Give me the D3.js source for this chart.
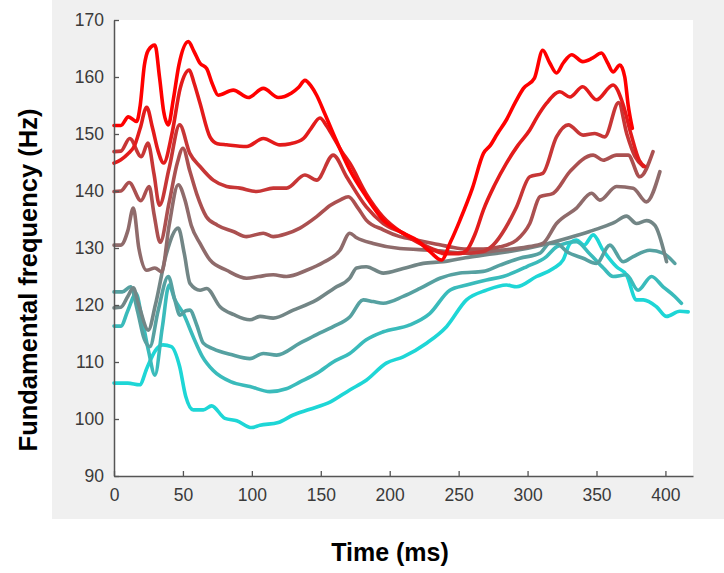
<!DOCTYPE html>
<html>
<head>
<meta charset="utf-8">
<script src="https://cdn.jsdelivr.net/npm/d3@7"></script>
<style>
  body { margin: 0; background: #fff; }
  text { font-family: "Liberation Sans", Arial, sans-serif; }
</style>
</head>
<body>
<div id="chart"></div>
<script>
// pitch contours, [time (ms), F0 (Hz)], highest to lowest
var contour1 = [[0,151.5],[5,151.5],[10.4,153],[16.4,152.2],[19,155],[22,162],[24.9,164.7],[29.7,165.6],[33,160],[36,154],[39.4,151.6],[43,156],[47,162],[53.9,166.2],[58,164.5],[62.4,162.4],[67.2,161.5],[71,159],[75.6,156.8],[86.5,157.7],[97.4,156.4],[108.3,158],[119.2,156.4],[128.8,157.2],[134,158.2],[138.5,159.4],[143,158.4],[147,156.8],[153,153.5],[159,150.1],[171,143.7],[183,139],[195.3,134.9],[209.8,132.6],[219.5,131.4],[229,129.4],[237.6,127.9],[244,131],[251,134.9],[260,140.5],[268,146.6],[273,148],[278,150],[284.7,152.5],[291,155.5],[297,158],[305,159.8],[311,164.7],[316,162.5],[321,160.7],[326,162.5],[332,163.9],[340,162.7],[347,163.3],[353.6,164.2],[358,162.5],[362,160.9],[367,162.1],[370.5,160],[373,155],[376,151]];
var contour2 = [[0,144.9],[5,145.5],[10,146.5],[15,148],[19,151],[23.7,154.7],[28,151],[32,147],[36,144.9],[42,150],[48,158],[54.6,161.2],[58,159],[62.4,155.4],[69.6,149.5],[75,148.3],[81.7,148.1],[96.2,147.8],[108.3,149.2],[120.4,148.1],[128,148.3],[137.3,149.2],[143,151],[149.4,152.8],[154,151.5],[159,149.5],[165,147],[171,144.9],[183,139.5],[195,135.5],[210,132.5],[220,131],[230,129.8],[240,129],[250,129],[255.8,129.6],[262,132.5],[268,136.7],[276,141],[284.7,144.9],[293,148],[301.6,150.7],[307,153],[313.8,155.4],[323.4,157.4],[330.7,156.5],[340,158.3],[350,156],[362,158.6],[369,155.4],[375,150],[381,145.4],[385,144.3]];
var contour3 = [[0,146.9],[5,147],[11.4,149.2],[19.8,146],[24.6,148.4],[29,143],[33,137.5],[40,144],[47.6,151.6],[55,146.6],[62.4,144.3],[72,141.9],[81.7,140.8],[91.4,140.5],[103.5,139.9],[115.5,140.5],[125.2,140.5],[138.5,142.8],[147,141.9],[159,146.3],[168.7,142.5],[183,137.2],[195.3,134.3],[209.8,132.6],[220,131.2],[231.5,129.8],[243.6,129.1],[255.7,129.1],[267.8,129.4],[275,130.5],[284,133.5],[292,137.2],[301.6,142.5],[311,143.1],[321,149.5],[329.5,151.6],[340.3,149.8],[348.8,150.1],[356,149.5],[366,155.5],[372,150],[378,146],[384,144.3]];
var contour4 = [[0,139.9],[5,140],[11,141.5],[19.5,138.3],[25.5,140.8],[29,136],[33.5,131],[40,138],[46,145],[50,147.5],[55,143.5],[60,139.5],[67,135.5],[75,134],[86.5,132.9],[96.2,132],[108.3,132.6],[115.5,132],[125,132.5],[134.9,133.5],[147,135.5],[157,137.5],[163.9,138.4],[170,139],[177,137],[183,134.9],[195.3,133.2],[207.4,132],[219.5,131.4],[231.5,130.8],[243.6,130.2],[255.7,129.8],[267.8,129.8],[280,130.2],[292,131.4],[301.6,134.3],[309,139],[318.6,139.6],[330.7,143.4],[347.6,146.3],[354.8,145.4],[364.5,146.3],[373,146.3],[381.4,142.5],[391,146.9]];
var contour5 = [[0,130.5],[5,130.5],[10,133],[14,137],[18,130],[23.7,126.1],[29.7,126.5],[34.6,125.8],[40,134],[46.6,141.1],[51.5,138.4],[56,134],[62.4,130.8],[69.6,127.9],[81.7,126.1],[96.2,124.7],[105,125],[115.5,125.3],[125.2,125],[139.7,126.1],[152,127.5],[163.9,129.6],[171,132.6],[176,131.8],[188,130.8],[207.4,129.9],[231.5,129.6],[255.7,129.1],[280,129.6],[300,130.2],[311,130.8],[321,134.3],[335.5,137],[346.4,139.6],[352.4,138.4],[364.5,140.8],[376.6,140.5],[386.2,138.1],[396,143.4]];
var contour6 = [[0,119.5],[5,119.6],[10,121.5],[14,123],[18,120],[24.9,115.6],[30,120],[38,129],[46.6,133.5],[51,129],[55.1,123.8],[62.4,122.6],[67.2,122.9],[76.9,119.7],[87,118.3],[98.6,117.4],[105.9,118],[115.5,117.7],[130,119.1],[147,120.9],[160,123],[171,124.7],[176,126.5],[183,126.7],[195.3,125.6],[209.8,126.4],[224.3,127.3],[238.8,127.6],[255,128.3],[270,128.8],[290,129.5],[310,130.5],[330,131.8],[345,132.9],[354.8,133.7],[363,134.5],[371.7,135.6],[379,134.3],[386.3,134.8],[392.3,134],[400.8,127.6]];
var contour7 = [[0,122.3],[6,122.3],[12,123.2],[17,119],[22,114],[26,112.7],[32,119],[39.4,125],[44,121],[47.9,118.2],[52,119],[55,119.1],[60,116.5],[64.8,113.3],[72,112.3],[85,111.3],[98.6,110.6],[108.3,111.5],[118,111.2],[134.9,113.3],[147,114.8],[159,116.2],[171,117.9],[180.8,120.9],[188,120.6],[195.3,120.3],[209.8,121.5],[222,122.9],[236.4,124.7],[251,125.6],[267.8,125.9],[280,127],[294.4,128.2],[309,129.1],[316,130.8],[321,130.8],[328.3,129.4],[340.3,128.2],[350,127.3],[359.7,130.5],[369.3,127.6],[376.6,128.5],[388.7,129.6],[398.3,129.1],[406.8,127.3]];
var contour8 = [[0,116.3],[5,116.3],[10,119],[16,122],[20,118],[25,112],[29.7,107.7],[35,116],[40,123.5],[44,121],[50.3,118.5],[57.5,114.4],[64,111],[72,108.5],[85,106.5],[98.6,105.7],[113,104.8],[125,105.3],[135,106.5],[147,108],[159,110],[171,111.5],[183,113.9],[195.3,115.3],[214.6,116.5],[229,118.5],[243.6,122.6],[255.7,123.5],[270.2,124.4],[282.3,125],[299.2,126.7],[313.7,128.5],[321,130.2],[335.5,131.1],[345,129],[355,126.5],[362,125],[371.7,125.3],[380.2,122.6],[389.9,125],[398.3,123.2],[406.8,121.5],[411.6,120.3]];
var contour9 = [[0,106.3],[10,106.3],[18.6,106],[24,109],[30,112],[35.5,113],[41.6,112.7],[47.6,109.2],[52,104],[57.5,101.6],[64.8,101.6],[70.8,102.3],[80.5,100.1],[89,99.7],[99.8,98.5],[105.9,98.9],[119.2,99.4],[130,100.7],[142.1,101.7],[157,103],[171,105.1],[183,106.8],[197.5,109.8],[209.8,110.9],[226.7,113.3],[241.2,116.2],[255.7,120.9],[270.2,122.6],[284.7,123.5],[292,123.2],[306.5,125],[318.6,126.4],[325.8,127.9],[330.7,130.8],[335.5,131.4],[341,130.5],[347.6,132.3],[354.8,129.6],[364.5,126.7],[371.7,125.3],[379,120.9],[383.9,120.9],[393.5,119.7],[400.8,118],[410.4,118.9],[416.5,118.8]];

var contours = [contour1, contour2, contour3, contour4, contour5, contour6, contour7, contour8, contour9];
var xTicks = [0, 50, 100, 150, 200, 250, 300, 350, 400];
var yTicks = [90, 100, 110, 120, 130, 140, 150, 160, 170];

var svgWidth = 724;
var svgHeight = 573;
var margin = { top: 20, right: 31, bottom: 97, left: 114 };
var width = svgWidth - margin.left - margin.right;
var height = svgHeight - margin.top - margin.bottom;

var svg = d3.select("#chart").append("svg")
    .attr("width", svgWidth)
    .attr("height", svgHeight);

// grey figure panel and white axes area
svg.append("rect").attr("x", 52).attr("y", 0)
    .attr("width", svgWidth - 52).attr("height", 519)
    .attr("fill", "#f0f0f0");
svg.append("rect").attr("x", margin.left).attr("y", margin.top)
    .attr("width", width).attr("height", height)
    .attr("fill", "#ffffff");

var chartGroup = svg.append("g")
    .attr("transform", `translate(${margin.left}, ${margin.top})`);

var xScale = d3.scaleLinear().domain([0, 420]).range([0, width]);
var yScale = d3.scaleLinear().domain([90, 170]).range([height, 0]);

// colour runs from red (top contour) to cyan (bottom contour)
var colorScale = d3.scaleLinear()
    .domain([0, contours.length - 1])
    .range(["#ff0000", "#1ed6d6"])
    .interpolate(d3.interpolateRgb);

var line = d3.line()
    .x(d => xScale(d[0]))
    .y(d => yScale(d[1]))
    .curve(d3.curveMonotoneX);

// draw cyan first so the red contours sit on top
d3.range(contours.length).reverse().forEach(function(i) {
    chartGroup.append("path")
        .datum(contours[i])
        .attr("d", line)
        .attr("fill", "none")
        .attr("stroke", colorScale(i))
        .attr("stroke-width", 3.6)
        .attr("stroke-linejoin", "round")
        .attr("stroke-linecap", "round");
});

// axes, MATLAB style: ticks pointing inwards
var bottomAxis = d3.axisBottom(xScale).tickValues(xTicks).tickSizeInner(-5).tickSizeOuter(0).tickPadding(13);
var leftAxis = d3.axisLeft(yScale).tickValues(yTicks).tickSizeInner(-5).tickSizeOuter(0).tickPadding(10);

var xAxisG = chartGroup.append("g").attr("transform", `translate(0, ${height})`).call(bottomAxis);
var yAxisG = chartGroup.append("g").call(leftAxis);

[xAxisG, yAxisG].forEach(function(g) {
    g.select(".domain").attr("stroke", "#555555").attr("stroke-width", 1.5);
    g.selectAll(".tick line").attr("stroke", "#555555").attr("stroke-width", 1.3);
    g.selectAll(".tick text")
        .attr("fill", "#3a3a3a")
        .style("font-size", "17.5px")
        .style("font-family", "'Liberation Sans', Arial, sans-serif");
});

// axis titles
svg.append("text")
    .attr("transform", "translate(37, 280) rotate(-90)")
    .attr("text-anchor", "middle")
    .style("font-size", "25.5px")
    .style("font-weight", "bold")
    .attr("fill", "#000")
    .text("Fundamental frequency (Hz)");

svg.append("text")
    .attr("x", 390)
    .attr("y", 561)
    .attr("text-anchor", "middle")
    .style("font-size", "25px")
    .style("font-weight", "bold")
    .attr("fill", "#000")
    .text("Time (ms)");
</script>
</body>
</html>
